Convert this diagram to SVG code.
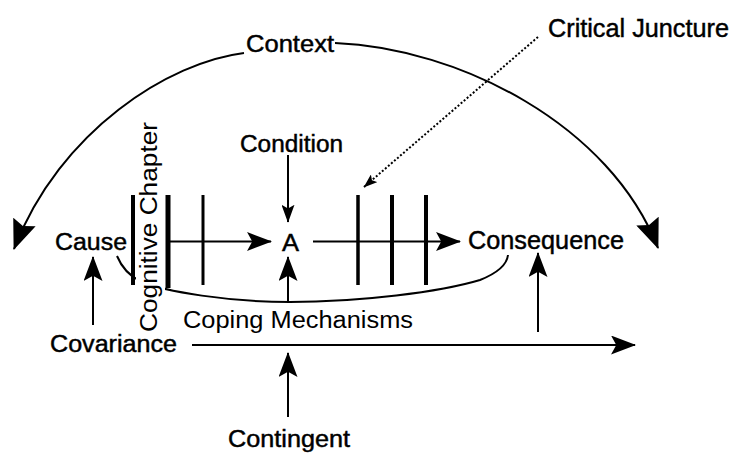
<svg xmlns="http://www.w3.org/2000/svg" width="730" height="453" viewBox="0 0 730 453">
<style>
text{font-family:"Liberation Sans",Arial,sans-serif;fill:#000}
.h{font-size:23px;stroke:#000;stroke-width:0.45px}
.t{font-size:23px}
.ln{fill:none;stroke:#000;stroke-width:2}
.bar{stroke:#000;fill:none}
</style>
<defs>
<marker id="a" viewBox="0 0 24 16" markerWidth="25" markerHeight="19" refX="23" refY="8" orient="auto" markerUnits="userSpaceOnUse" preserveAspectRatio="none"><path d="M0,0 L24,8 L0,16 L5,8 z" fill="#000"/></marker>
<marker id="as" viewBox="0 0 24 16" markerWidth="18" markerHeight="13" refX="23" refY="8" orient="auto" markerUnits="userSpaceOnUse" preserveAspectRatio="none"><path d="M0,0 L24,8 L0,16 L5,8 z" fill="#000"/></marker>
<marker id="ab" viewBox="0 0 28 22" markerWidth="30" markerHeight="24" refX="27" refY="11" orient="auto" markerUnits="userSpaceOnUse" preserveAspectRatio="none"><path d="M0,0 L28,11 L0,22 L4,11 z" fill="#000"/></marker>
<marker id="ad" viewBox="0 0 24 16" markerWidth="14" markerHeight="10" refX="23" refY="8" orient="auto" markerUnits="userSpaceOnUse" preserveAspectRatio="none"><path d="M0,0 L24,8 L0,16 L5,8 z" fill="#000"/></marker>
</defs>
<g id="connectors">
<path class="ln" d="M244,53 C170,62 60,130 14,249" stroke-width="2.5" marker-end="url(#ab)"/>
<path class="ln" d="M335,43 C460,48 610,125 658,248" stroke-width="2.5" marker-end="url(#ab)"/>
<path class="ln" d="M538,37 L364,187" stroke-dasharray="2,2" marker-end="url(#ad)"/>
<path class="ln" d="M117,256 C122,268 130,276 140,281 C165,292 230,302 290,302 C360,302 440,292 480,280 C500,272 507,264 508,255"/>
<path class="ln" d="M168,241.5 L271,241.5" marker-end="url(#a)"/>
<path class="ln" d="M313,241.5 L460,241.5" marker-end="url(#a)"/>
<path class="ln" d="M288,155 L288,222" marker-end="url(#as)"/>
<path class="ln" d="M288,302 L288,257" marker-end="url(#a)"/>
<path class="ln" d="M93,325 L93,257" marker-end="url(#a)"/>
<path class="ln" d="M192,345 L635,345" stroke-width="2.5" marker-end="url(#a)"/>
<path class="ln" d="M288,417 L288,353" marker-end="url(#a)"/>
<path class="ln" d="M538,332 L538,253" marker-end="url(#a)"/>
</g>
<g id="cognitive-chapter">
<rect x="136" y="118" width="29" height="216" fill="#fff"/>
<text class="t" font-size="22" transform="translate(157,332) rotate(-90)" textLength="210" lengthAdjust="spacingAndGlyphs">Cognitive Chapter</text>
</g>
<g id="bars">
<line class="bar" x1="133" y1="195" x2="133" y2="285" stroke-width="4"/>
<line class="bar" x1="168" y1="195" x2="168" y2="288" stroke-width="5"/>
<line class="bar" x1="203" y1="195" x2="203" y2="285" stroke-width="3"/>
<line class="bar" x1="358" y1="195" x2="358" y2="285" stroke-width="3.5"/>
<line class="bar" x1="392" y1="195" x2="392" y2="285" stroke-width="4"/>
<line class="bar" x1="426" y1="195" x2="426" y2="285" stroke-width="4"/>
</g>
<g id="context"><text class="h" x="246" y="52" textLength="88" lengthAdjust="spacingAndGlyphs">Context</text></g>
<g id="critical-juncture"><text class="h" style="font-size:25px" x="548" y="36.5" textLength="181" lengthAdjust="spacingAndGlyphs">Critical Juncture</text></g>
<g id="condition"><text class="h" x="240" y="151.5" textLength="103" lengthAdjust="spacingAndGlyphs">Condition</text></g>
<g id="cause"><text class="h" x="55" y="250" textLength="72" lengthAdjust="spacingAndGlyphs">Cause</text></g>
<g id="a-node"><text class="h" x="282" y="251" textLength="17" lengthAdjust="spacingAndGlyphs">A</text></g>
<g id="consequence"><text class="h" style="font-size:25px" x="468" y="248.5" textLength="156" lengthAdjust="spacingAndGlyphs">Consequence</text></g>
<g id="coping-mechanisms"><text class="t" x="183" y="328" textLength="230" lengthAdjust="spacingAndGlyphs">Coping Mechanisms</text></g>
<g id="covariance"><text class="h" x="50" y="351.5" textLength="127" lengthAdjust="spacingAndGlyphs">Covariance</text></g>
<g id="contingent"><text class="h" x="228" y="446.5" textLength="122" lengthAdjust="spacingAndGlyphs">Contingent</text></g>
</svg>
